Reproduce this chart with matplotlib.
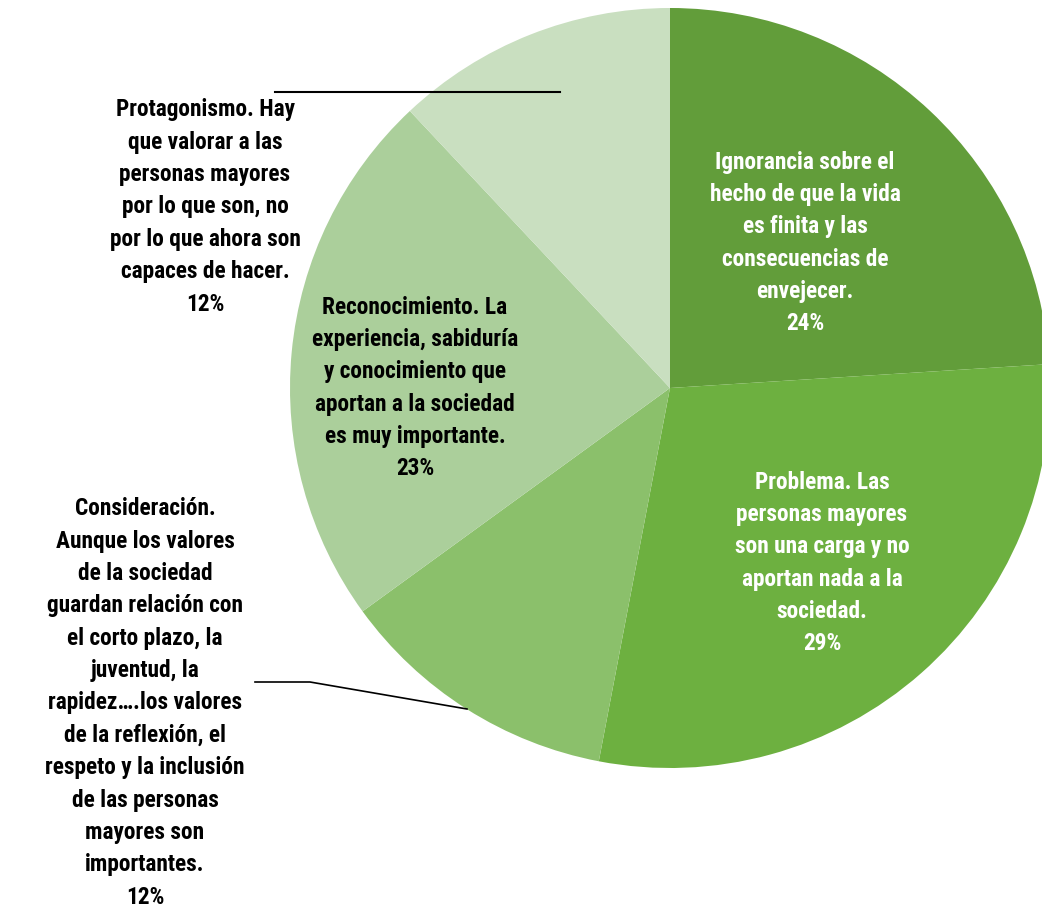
import matplotlib.pyplot as plt
from matplotlib import font_manager

# Data
labels = [
    "Ignorancia sobre el\nhecho de que la vida\nes finita y las\nconsecuencias de\nenvejecer.\n24%",
    "Problema. Las\npersonas mayores\nson una carga y no\naportan nada a la\nsociedad.\n29%",
    "Consideración.\nAunque los valores\nde la sociedad\nguardan relación con\nel corto plazo, la\njuventud, la\nrapidez….los valores\nde la reflexión, el\nrespeto y la inclusión\nde las personas\nmayores son\nimportantes.\n12%",
    "Reconocimiento. La\nexperiencia, sabiduría\ny conocimiento que\naportan a la sociedad\nes muy importante.\n23%",
    "Protagonismo. Hay\nque valorar a las\npersonas mayores\npor lo que son, no\npor lo que ahora son\ncapaces de hacer.\n12%",
]
values = [24, 29, 12, 23, 12]
colors = ["#629d3a", "#6db040", "#8bc06b", "#abcf9b", "#c9dfc0"]
text_colors = ["white", "white", "black", "black", "black"]

W, H = 1042, 908
names = {f.name for f in font_manager.fontManager.ttflist}
cands = ["Roboto Condensed", "Open Sans Condensed", "Liberation Sans Narrow", "DejaVu Sans"]
FONT = [c for c in cands if c in names][:1] or ["DejaVu Sans"]

fig = plt.figure(figsize=(W / 100, H / 100), dpi=100)
ax = fig.add_axes([0, 0, 1, 1])

cx, cy, r = 670, H - 388, 380
ax.pie(values, colors=colors, startangle=90, counterclock=False,
       center=(cx, cy), radius=r, frame=True,
       wedgeprops=dict(linewidth=0))
ax.set_xlim(0, W)
ax.set_ylim(0, H)
ax.set_aspect("equal")
ax.axis("off")

# label positions in pixel coords (x, y from top)
pos = [(805, 243), (822, 563), (145, 703), (415, 388), (205, 207)]
for lab, (x, y), tc in zip(labels, pos, text_colors):
    ax.text(x, H - y, lab, ha="center", va="center", multialignment="center",
            fontsize=16.8, fontweight="bold", fontstretch="condensed", color=tc,
            family=FONT, linespacing=1.52)

# leader lines
ax.plot([275, 560], [H - 92, H - 92], color="black", lw=1.5)
ax.plot([255, 310, 467], [H - 682, H - 682, H - 709], color="black", lw=1.2)

fig.savefig("out.png", dpi=100)
